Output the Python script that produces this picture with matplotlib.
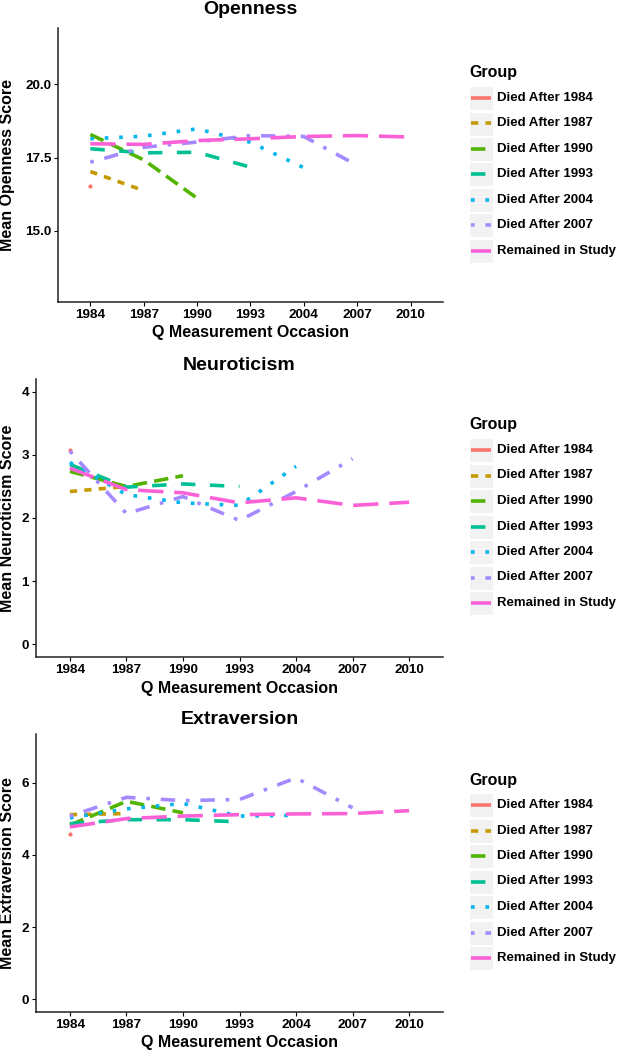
import numpy as np
import matplotlib
matplotlib.use("Agg")
import matplotlib.pyplot as plt
from matplotlib.patches import Rectangle

plt.rcParams["font.family"] = ["Liberation Sans", "DejaVu Sans"]
plt.rcParams["font.weight"] = "bold"

# datos
occasions = ["1984", "1987", "1990", "1993", "2004", "2007", "2010"]
groups = ["Died After 1984", "Died After 1987", "Died After 1990", "Died After 1993",
          "Died After 2004", "Died After 2007", "Remained in Study"]
colors = ["#F8766D", "#C49A00", "#53B400", "#00C094", "#00B6EB", "#A58AFF", "#FB61D7"]
dashes = [None, (2, 2), (4, 2), (4, 4), (1, 3), (1, 3, 4, 3), (7, 3)]

openness = [
    [16.53],
    [17.02, 16.37],
    [18.29, 17.42, 16.11],
    [17.80, 17.66, 17.68, 17.17],
    [18.14, 18.23, 18.48, 18.02, 17.15],
    [17.34, 17.85, 18.03, 18.25, 18.22, 17.23],
    [17.97, 17.95, 18.08, 18.14, 18.22, 18.25, 18.20],
]
neuroticism = [
    [3.08],
    [2.42, 2.50],
    [2.74, 2.50, 2.67],
    [2.85, 2.49, 2.54, 2.50],
    [2.88, 2.37, 2.24, 2.20, 2.82],
    [3.06, 2.07, 2.34, 1.96, 2.42, 2.94],
    [2.79, 2.45, 2.40, 2.24, 2.32, 2.20, 2.25],
]
extraversion = [
    [4.59],
    [5.12, 5.15],
    [4.83, 5.49, 5.17],
    [4.87, 4.98, 4.98, 4.92],
    [5.03, 5.28, 5.43, 5.08, 5.10],
    [5.08, 5.60, 5.51, 5.54, 6.14, 5.31],
    [4.78, 5.01, 5.08, 5.12, 5.14, 5.15, 5.23],
]

W, H = 618, 1050
fig = plt.figure(figsize=(W / 100, H / 100), dpi=100)
LW = 2.6


def px_axes(l, t, r, b):
    return fig.add_axes([l / W, 1 - b / H, (r - l) / W, (b - t) / H])


def panel(box, title, ylabel, data, ylim, yticks, yfmt, title_y, xlab_y, leg_top):
    l, t, r, b = box
    ax = px_axes(l, t, r, b)
    x = np.arange(len(occasions))
    for vals, c, d in zip(data, colors, dashes):
        n = len(vals)
        if n == 1:
            # grupo con una sola medicion: solo un punto
            ax.plot(x[:1], vals, "o", color=c, markersize=3, markeredgewidth=0)
            continue
        line, = ax.plot(x[:n], vals, color=c, lw=LW, solid_capstyle="butt",
                        dash_capstyle="butt")
        if d is not None:
            line.set_dashes(d)
    ax.set_xlim(-0.6, 6.6)
    ax.set_ylim(*ylim)
    ax.set_xticks(x)
    ax.set_xticklabels(occasions)
    ax.set_yticks(yticks)
    ax.set_yticklabels([yfmt.format(v) for v in yticks])
    for s in ["top", "right"]:
        ax.spines[s].set_visible(False)
    for s in ["left", "bottom"]:
        ax.spines[s].set_linewidth(1.1)
        ax.spines[s].set_color("#222222")
    ax.tick_params(length=3, width=0.8, pad=2, labelsize=9.7, colors="black")
    for lab in ax.get_xticklabels() + ax.get_yticklabels():
        lab.set_fontweight("bold")
    cx = (l + r) / 2
    fig.text(cx / W, 1 - title_y / H, title, ha="center", va="baseline",
             fontsize=14, fontweight="bold")
    fig.text(cx / W, 1 - xlab_y / H, "Q Measurement Occasion", ha="center",
             va="center", fontsize=11.5, fontweight="bold")
    fig.text(8 / W, 1 - ((t + b) / 2) / H, ylabel, ha="center", va="center",
             rotation=90, fontsize=11.5, fontweight="bold")

    # leyenda estilo ggplot
    lg = px_axes(455, leg_top - 20, 618, leg_top + 190)
    lg.set_xlim(455, 618)
    lg.set_ylim(leg_top + 190, leg_top - 20)
    lg.axis("off")
    lg.text(469, leg_top, "Group", ha="left", va="center", fontsize=11.5,
            fontweight="bold")
    for i, (g, c, d) in enumerate(zip(groups, colors, dashes)):
        yc = leg_top + 25 + 25.5 * i
        lg.add_patch(Rectangle((469, yc - 12), 24, 24, facecolor="#F2F2F2",
                               edgecolor="white", lw=0.8))
        ln, = lg.plot([471, 491], [yc, yc], color=c, lw=LW, solid_capstyle="butt",
                      dash_capstyle="butt")
        if d is not None:
            ln.set_dashes(d)
        lg.text(497, yc, g, ha="left", va="center", fontsize=9.5, fontweight="bold")
    return ax


panel((58.3, 28, 442.7, 301.7), "Openness", "Mean Openness Score", openness,
      (12.575, 21.925), [15.0, 17.5, 20.0], "{:.1f}", 13.5, 333, 73)
panel((36, 379.3, 443, 656.7), "Neuroticism", "Mean Neuroticism Score", neuroticism,
      (-0.2, 4.2), [0, 1, 2, 3, 4], "{:d}", 369.5, 688, 425)
panel((36, 734.3, 443, 1011.7), "Extraversion", "Mean Extraversion Score", extraversion,
      (-0.35, 7.35), [0, 2, 4, 6], "{:d}", 724, 1043, 780)

fig.savefig("out.png", dpi=100)
